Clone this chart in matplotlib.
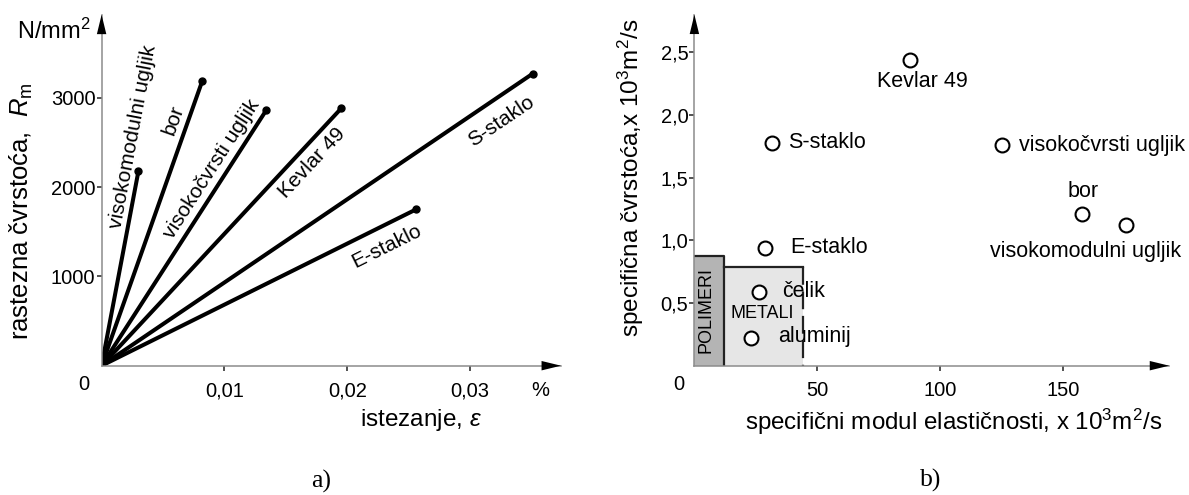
import numpy as np
import matplotlib
matplotlib.use("Agg")
import matplotlib.pyplot as plt
from matplotlib.patches import Rectangle

plt.rcParams['font.family'] = ['Liberation Sans', 'DejaVu Sans']
plt.rcParams['mathtext.fontset'] = 'custom'
plt.rcParams['mathtext.rm'] = 'Liberation Sans'
plt.rcParams['mathtext.it'] = 'Liberation Sans:italic'

# a) rastezna cvrstoca vlakana
fibres = ["visokomodulni ugljik", "bor", "visokočvrsti ugljik", "Kevlar 49", "S-staklo", "E-staklo"]
strain = [0.0030, 0.0082, 0.0134, 0.0195, 0.0351, 0.0256]
strength = [2180, 3190, 2860, 2880, 3270, 1750]
# where the rotated names sit (data coords)
fibre_lbl_x = [0.00252, 0.00584, 0.00897, 0.01711, 0.03257, 0.02319]
fibre_lbl_y = [2564, 2751, 2203, 2267, 2732, 1333]

# b) specificni modul / specificna cvrstoca
materials = ["Kevlar 49", "S-staklo", "visokočvrsti ugljik", "bor",
             "visokomodulni ugljik", "E-staklo", "čelik", "aluminij"]
spec_modulus = [87.7, 31.4, 125.2, 157.7, 175.5, 28.6, 26.1, 23.2]
spec_strength = [2.44, 1.78, 1.76, 1.21, 1.12, 0.94, 0.59, 0.22]
mat_lbl_x = [92.7, 38.1, 132.1, 158.1, 159.2, 38.8, 35.7, 33.9]
mat_lbl_y = [2.265, 1.778, 1.76, 1.388, 0.909, 0.939, 0.593, 0.231]
mat_lbl_ha = ["center", "left", "left", "center", "center", "left", "left", "left"]

polymer_box = (12.2, 0.875)   # max modul, max cvrstoca
metal_box = (44.3, 0.79)

W, H = 1189, 495
fig = plt.figure(figsize=(W / 100, H / 100), dpi=100)


def px_axes(left, origin_y, width, height):
    return fig.add_axes([left / W, (H - origin_y) / H, width / W, height / H])


def ftext(x, y, s, **kw):
    kw.setdefault("ha", "center")
    kw.setdefault("va", "center")
    fig.text(x / W, 1 - y / H, s, **kw)


def style_axes(ax):
    ax.patch.set_alpha(0)
    for s in ['top', 'right']:
        ax.spines[s].set_visible(False)
    for s in ['left', 'bottom']:
        ax.spines[s].set_color('#8c8c8c')
        ax.spines[s].set_linewidth(1.1)
    ax.tick_params(direction='out', length=3.6, width=1.3, color='#444444', labelsize=14.5)
    ax.tick_params(axis='y', pad=0.8)
    ax.tick_params(axis='x', pad=7.5)
    head = dict(arrowstyle='-|>,head_length=0.7,head_width=0.17', color='black',
                lw=0, mutation_scale=20, shrinkA=0, shrinkB=0)
    ax.annotate('', xy=(1, 0), xycoords='axes fraction', xytext=(0.9, 0), arrowprops=head)
    ax.annotate('', xy=(0, 1), xycoords='axes fraction', xytext=(0, 0.9), arrowprops=head)


# ---------- a) ----------
ax1 = px_axes(101.6, 365.7, 459.4, 351)
ax1.set_xlim(0, 0.0374)
ax1.set_ylim(0, 3930)
style_axes(ax1)
ax1.set_xticks([0.01, 0.02, 0.03])
ax1.set_xticklabels(["0,01", "0,02", "0,03"])
ax1.set_yticks([1000, 2000, 3000])

for i in range(len(fibres)):
    ax1.plot([0, strain[i]], [0, strength[i]], color='black', lw=2.9, solid_capstyle='butt')
    ax1.plot(strain[i], strength[i], 'o', color='black', ms=5)
    p0 = ax1.transData.transform((0, 0))
    p1 = ax1.transData.transform((strain[i], strength[i]))
    ang = np.degrees(np.arctan2(p1[1] - p0[1], p1[0] - p0[0]))
    ax1.text(fibre_lbl_x[i], fibre_lbl_y[i], fibres[i], rotation=ang, rotation_mode='anchor',
             ha='center', va='center', fontsize=15)

ftext(84, 385, "0", fontsize=14.5)
ftext(540, 390, "%", fontsize=14.5)
ftext(17, 31, "N/mm$^2$", fontsize=17, ha='left')
ftext(421, 420, r"istezanje, $\varepsilon$", fontsize=17.5)
ftext(21, 211, r"rastezna čvrstoća,  $R_\mathrm{m}$", fontsize=18.5, rotation=90)
ftext(321, 481, "a)", fontsize=18.5, family='Liberation Serif')

# ---------- b) ----------
ax2 = px_axes(694.4, 365.7, 474.8, 351.1)
ax2.set_xlim(0, 193)
ax2.set_ylim(0, 2.8)
style_axes(ax2)
ax2.set_xticks([50, 100, 150])
ax2.set_yticks([0.5, 1.0, 1.5, 2.0, 2.5])
ax2.set_yticklabels(["0,5", "1,0", "1,5", "2,0", "2,5"])

pw, ph = polymer_box
mw, mh = metal_box
ax2.add_patch(Rectangle((0, 0), pw, ph, facecolor='#b4b4b4', edgecolor='none', zorder=1))
ax2.add_patch(Rectangle((pw, 0), mw - pw, mh, facecolor='#e6e6e6', edgecolor='none', zorder=1))
ax2.plot([0, pw, pw], [ph, ph, 0], color='#222222', lw=1.6, zorder=2)
ax2.plot([pw, mw], [mh, mh], color='#222222', lw=1.6, zorder=2)
ax2.plot([mw, mw], [mh, 0], color='#222222', lw=1.6, ls=(0, (8, 3)), zorder=2)
ax2.text(pw / 2 - 1.3, 0.445, "POLIMERI", rotation=90, ha='center', va='center', fontsize=13)
ax2.text(27.4, 0.418, "METALI", ha='center', va='center', fontsize=13)

ax2.plot(spec_modulus, spec_strength, 'o', ms=10, mfc='white', mec='black', mew=1.5, zorder=3)
for i in range(len(materials)):
    ax2.text(mat_lbl_x[i], mat_lbl_y[i], materials[i], ha=mat_lbl_ha[i], va='center', fontsize=15.5)

ftext(679.3, 385, "0", fontsize=14.5)
ftext(954, 421.7, "specifični modul elastičnosti, x 10$^3$m$^2$/s", fontsize=17.4)
ftext(631, 178, "specifična čvrstoća,x 10$^3$m$^2$/s", fontsize=17.5, rotation=90)
ftext(931, 480, "b)", fontsize=18.5, family='Liberation Serif')

fig.savefig("out.png", dpi=100)
